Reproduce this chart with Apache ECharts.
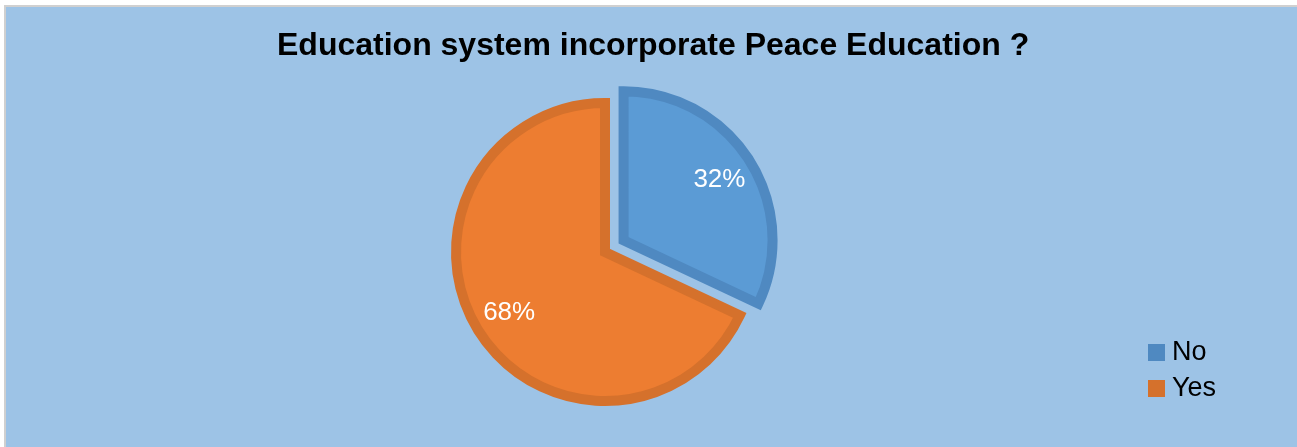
<!DOCTYPE html>
<html>
<head>
<meta charset="utf-8">
<script src="https://cdn.jsdelivr.net/npm/echarts@6/dist/echarts.min.js"></script>
<style>
html,body{margin:0;padding:0;background:#ffffff;}
#chart{width:1297px;height:447px;}
</style>
</head>
<body>
<div id="chart"></div>
<script>
var titleText = 'Education system incorporate Peace Education ?';
var categories = ['No', 'Yes'];
var values = [32, 68];
var fillColors = ['#5B9BD5', '#ED7D31'];
var borderColors = ['#4F89C1', '#D5712C'];

var chart = echarts.init(document.getElementById('chart'), null, {renderer: 'canvas'});

var pieData = categories.map(function (c, i) {
  return {
    name: c,
    value: values[i],
    selected: i === 0,
    itemStyle: {color: fillColors[i], borderColor: borderColors[i], borderWidth: 10, borderJoin: 'miter', borderMiterLimit: 10}
  };
});
var labelData = categories.map(function (c, i) {
  return {name: c, value: values[i], selected: i === 0};
});

var center = [605, 252];

chart.setOption({
  animation: false,
  backgroundColor: 'transparent',
  graphic: [{
    type: 'rect',
    shape: {x: 5, y: 6, width: 1400, height: 500},
    style: {fill: '#9DC3E6', stroke: '#D0D0D0', lineWidth: 2},
    silent: true,
    z: -10
  }],
  title: {
    text: titleText,
    left: 272,
    top: 25,
    padding: 5,
    textStyle: {fontFamily: 'Liberation Sans', fontWeight: 'bold', fontSize: 32, color: '#000000'}
  },
  legend: {
    orient: 'vertical',
    left: 1143,
    top: 334,
    icon: 'rect',
    itemWidth: 17,
    itemHeight: 17,
    itemGap: 9,
    selectedMode: false,
    data: categories.map(function (c, i) {
      return {name: c, itemStyle: {color: borderColors[i], borderWidth: 0}};
    }),
    textStyle: {fontFamily: 'Liberation Sans', fontSize: 27, color: '#000000', padding: [0, 0, 0, 2]}
  },
  series: [{
    type: 'pie',
    center: center,
    radius: 149,
    startAngle: 90,
    clockwise: true,
    selectedMode: 'single',
    selectedOffset: 22,
    silent: true,
    label: {show: false},
    labelLine: {show: false},
    emphasis: {disabled: true},
    data: pieData
  }, {
    type: 'pie',
    center: center,
    radius: [72, 149],
    startAngle: 90,
    clockwise: true,
    selectedMode: 'single',
    selectedOffset: 22,
    silent: true,
    legendHoverLink: false,
    itemStyle: {color: 'rgba(0,0,0,0)', borderWidth: 0},
    label: {
      show: true,
      position: 'inside',
      formatter: '{d}%',
      fontFamily: 'Liberation Sans',
      fontSize: 26,
      color: '#ffffff'
    },
    labelLine: {show: false},
    emphasis: {disabled: true},
    data: labelData
  }]
});
</script>
</body>
</html>
